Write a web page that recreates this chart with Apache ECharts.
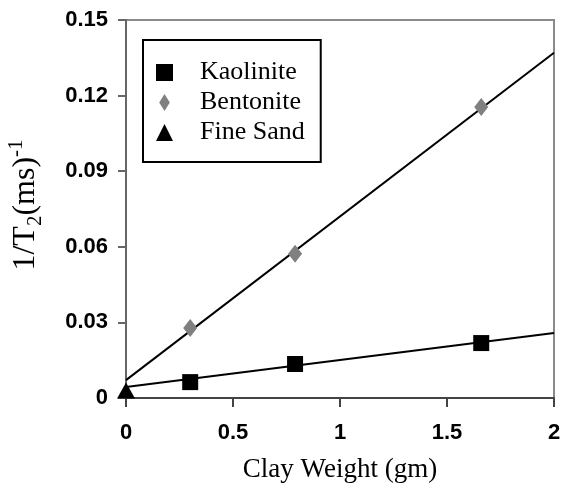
<!DOCTYPE html>
<html>
<head>
<meta charset="utf-8">
<script src="https://cdn.jsdelivr.net/npm/echarts@6/dist/echarts.min.js"></script>
<style>
  html, body { margin: 0; padding: 0; background: #fff; }
  #chart { width: 563px; height: 487px; }
</style>
</head>
<body>
<div id="chart"></div>
<script>
// measured points
const kaoliniteX = [0.3, 0.79, 1.66];
const kaoliniteY = [0.0063, 0.0135, 0.0218];
const bentoniteX = [0.3, 0.79, 1.66];
const bentoniteY = [0.0278, 0.0572, 0.1155];
const sandX = [0];
const sandY = [0.003];

// fitted lines (ends at x = 0 and x = 2)
const fitX = [0, 2];
const kaoliniteFit = [0.0044, 0.0258];
const bentoniteFit = [0.0071, 0.137];

const xTicks = ['0', '0.5', '1', '1.5', '2'];

const diamond = 'path://M5,0L10,8L5,16L0,8Z';

const pairs = (xs, ys) => xs.map((x, i) => [x, ys[i]]);

const chart = echarts.init(document.getElementById('chart'));

const option = {
  animation: false,
  grid: {
    left: 126, top: 20, right: 9, bottom: 89,
    containLabel: false, outerBoundsMode: 'none',
    show: true, borderColor: '#8a8a8a', borderWidth: 2
  },
  legend: {
    orient: 'vertical',
    left: 143, top: 40,
    data: [
      { name: 'Kaolinite', icon: 'rect' },
      { name: 'Bentonite', icon: diamond },
      { name: 'Fine Sand', icon: 'triangle' }
    ],
    itemWidth: 17, itemHeight: 17, itemGap: 3,
    padding: [19, 16, 16, 13],
    borderColor: '#000', borderWidth: 2,
    textStyle: {
      fontFamily: 'Liberation Serif', fontSize: 26, color: '#000',
      padding: [0, 0, 0, 22], lineHeight: 27
    }
  },
  xAxis: {
    type: 'value', min: 0, max: 2, interval: 0.5,
    name: 'Clay Weight (gm)', nameLocation: 'middle', nameGap: 58,
    nameTextStyle: { fontFamily: 'Liberation Serif', fontSize: 27, color: '#000' },
    axisLine: { lineStyle: { color: '#444', width: 2 } },
    axisTick: { length: 9, lineStyle: { color: '#444', width: 2 } },
    axisLabel: {
      margin: 24, color: '#000', fontFamily: 'Liberation Sans', fontWeight: 'bold', fontSize: 22,
      formatter: (v) => xTicks[Math.round(v / 0.5)]
    },
    splitLine: { show: false }
  },
  yAxis: {
    type: 'value', min: 0, max: 0.15, interval: 0.03,
    name: '{b|1/T}{sub|2}{b|(ms)}{sup|-1}', nameLocation: 'middle', nameGap: 80, nameRotate: 90,
    nameTextStyle: {
      color: '#000',
      padding: [0, 0, 0, 8],
      rich: {
        b: { fontFamily: 'Liberation Serif', fontSize: 32, lineHeight: 40, verticalAlign: 'middle', color: '#000' },
        sub: { fontFamily: 'Liberation Serif', fontSize: 21, verticalAlign: 'bottom', lineHeight: 22, color: '#000' },
        sup: { fontFamily: 'Liberation Serif', fontSize: 21, verticalAlign: 'top', lineHeight: 22, color: '#000' }
      }
    },
    axisLine: { show: true, lineStyle: { color: '#666', width: 2 } },
    axisTick: { show: true, length: 8, lineStyle: { color: '#666', width: 2 } },
    axisLabel: { margin: 18, color: '#000', fontFamily: 'Liberation Sans', fontWeight: 'bold', fontSize: 22 },
    splitLine: { show: false }
  },
  series: [
    {
      name: 'Kaolinite fit', type: 'line', silent: true, showSymbol: false,
      lineStyle: { color: '#000', width: 2 }, data: pairs(fitX, kaoliniteFit), z: 1
    },
    {
      name: 'Bentonite fit', type: 'line', silent: true, showSymbol: false,
      lineStyle: { color: '#000', width: 2 }, data: pairs(fitX, bentoniteFit), z: 1
    },
    {
      name: 'Kaolinite', type: 'scatter', symbol: 'rect', symbolSize: 16, clip: false,
      itemStyle: { color: '#000', opacity: 1 }, data: pairs(kaoliniteX, kaoliniteY), z: 3
    },
    {
      name: 'Bentonite', type: 'scatter', symbol: diamond, symbolSize: [14, 18], clip: false,
      itemStyle: { color: '#808080', opacity: 1 }, data: pairs(bentoniteX, bentoniteY), z: 3
    },
    {
      name: 'Fine Sand', type: 'scatter', symbol: 'triangle', symbolSize: [18, 16], clip: false,
      itemStyle: { color: '#000', opacity: 1 }, data: pairs(sandX, sandY), z: 3
    }
  ]
};

chart.setOption(option);
</script>
</body>
</html>
